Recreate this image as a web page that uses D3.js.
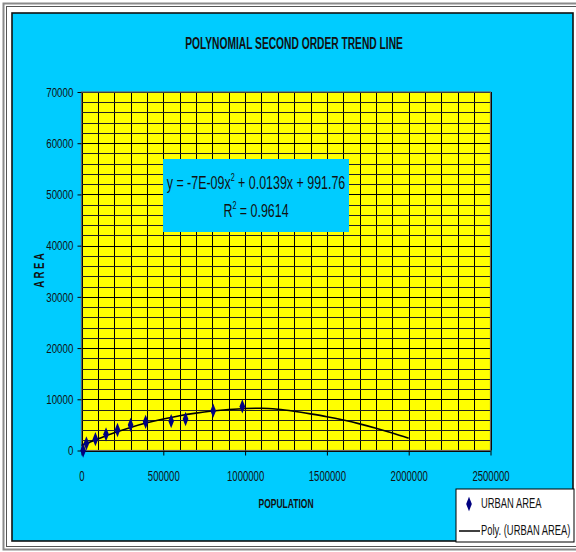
<html>
<head>
  <script src="https://d3js.org/d3.v7.min.js"></script>
  <style>
    body { margin: 0; background: white; }
    text { font-family: "Liberation Sans", Arial, sans-serif; fill: #111; }
  </style>
</head>
<body>
  <svg id="chart" width="576" height="552"></svg>
  <script>
    // urban area points
    const population = [10000, 30000, 85000, 150000, 220000, 300000, 392000, 548000, 636000, 805000, 983000];
    const urbanArea = [0, 1400, 2200, 3150, 4000, 5000, 5600, 5750, 6150, 7780, 8600];

    // poly trend line
    const trendPop = [0, 100000, 200000, 300000, 400000, 500000, 600000, 700000, 800000, 900000, 1000000,
      1100000, 1200000, 1300000, 1400000, 1500000, 1600000, 1700000, 1800000, 1900000, 2000000];
    const trendArea = [1000, 2250, 3450, 4500, 5400, 6150, 6800, 7300, 7700, 8000, 8200,
      8250, 8050, 7650, 7150, 6600, 5950, 5200, 4350, 3400, 2380];

    const xTicks = [0, 500000, 1000000, 1500000, 2000000, 2500000];
    const yTicks = [0, 10000, 20000, 30000, 40000, 50000, 60000, 70000];

    const svg = d3.select("svg#chart");

    // the original text is tall and narrow, so squeeze Liberation Sans around its anchor
    function narrow(t, k) {
      const tx = +t.attr("x"), ty = +t.attr("y");
      t.attr("x", 0).attr("y", 0).attr("transform", `translate(${tx},${ty}) scale(${k},1)`);
      return t;
    }

    // outer frame
    svg.append("rect").attr("x", 3.5).attr("y", 3.5).attr("width", 620).attr("height", 546)
      .style("fill", "white").style("stroke", "#8a8a8a").style("stroke-width", 2);
    svg.append("rect").attr("x", 6.5).attr("y", 6.5).attr("width", 620).attr("height", 540)
      .style("fill", "none").style("stroke", "#555").style("stroke-width", 1);
    svg.append("rect").attr("x", 12).attr("y", 13).attr("width", 561).attr("height", 528)
      .style("fill", "#00CCFF").style("stroke", "#111").style("stroke-width", 1.6);

    const x = d3.scaleLinear().domain([0, 2500000]).range([81.5, 490.5]);
    const y = d3.scaleLinear().domain([0, 70000]).range([450.5, 92]);

    // plot area
    svg.append("rect").attr("x", x(0)).attr("y", y(70000))
      .attr("width", x(2500000) - x(0)).attr("height", y(0) - y(70000))
      .style("fill", "#FFFF00");

    const grid = svg.append("g");
    for (let v = 0; v <= 2500000; v += 100000) {
      grid.append("line")
        .attr("x1", Math.round(x(v)) + 0.5).attr("x2", Math.round(x(v)) + 0.5)
        .attr("y1", y(70000)).attr("y2", y(0))
        .style("stroke", "black").style("stroke-width", 1);
    }
    for (let v = 0; v <= 70000; v += 2000) {
      grid.append("line")
        .attr("x1", x(0)).attr("x2", x(2500000))
        .attr("y1", Math.round(y(v)) + 0.5).attr("y2", Math.round(y(v)) + 0.5)
        .style("stroke", v % 10000 === 0 ? "black" : "#222").style("stroke-width", 1);
    }
    svg.append("rect").attr("x", x(0)).attr("y", y(70000))
      .attr("width", x(2500000) - x(0)).attr("height", y(0) - y(70000))
      .style("fill", "none").style("stroke", "#666").style("stroke-width", 1.2);

    // axes
    const yAxis = svg.append("g").attr("transform", `translate(${x(0)},0)`)
      .call(d3.axisLeft(y).tickValues(yTicks).tickSize(4).tickFormat(d3.format("d")));
    const xAxis = svg.append("g").attr("transform", `translate(0,${y(0)})`)
      .call(d3.axisBottom(x).tickValues(xTicks).tickSize(5).tickFormat(d3.format("d")));
    [xAxis, yAxis].forEach(a => {
      a.select(".domain").remove();
      a.selectAll("line").style("stroke", "black");
      a.selectAll("text").style("fill", "#111")
        .style("font-family", "'Liberation Sans', Arial, sans-serif");
    });
    yAxis.selectAll("text").style("font-size", "13.5px")
      .attr("x", -11.4).attr("transform", "scale(0.72,1)");
    xAxis.selectAll("text").style("font-size", "14.5px")
      .attr("y", 30.5).attr("dy", 0).attr("transform", "scale(0.66,1)");

    // trend line
    svg.append("path")
      .datum(trendPop.map((p, i) => [p, trendArea[i]]))
      .attr("d", d3.line().x(d => x(d[0])).y(d => y(d[1])).curve(d3.curveMonotoneX))
      .style("fill", "none").style("stroke", "black").style("stroke-width", 1.6);

    // points
    const diamond = d3.symbol().type(d3.symbolDiamond).size(28);
    population.forEach((p, i) => {
      svg.append("path").attr("d", diamond())
        .attr("transform", `translate(${x(p)},${y(urbanArea[i])}) scale(1,1.45)`)
        .style("fill", "#000080");
    });

    // title and axis labels
    narrow(svg.append("text").attr("x", 294).attr("y", 49).attr("text-anchor", "middle")
      .style("font-size", "16px").style("font-weight", "bold").text("POLYNOMIAL SECOND ORDER TREND LINE"), 0.64);
    svg.append("text").attr("transform", "translate(43.5,270.5) rotate(-90) scale(0.66,1)")
      .attr("text-anchor", "middle")
      .style("font-size", "14.5px").style("font-weight", "bold").text("A R E A");
    narrow(svg.append("text").attr("x", 286).attr("y", 508).attr("text-anchor", "middle")
      .style("font-size", "13.5px").style("font-weight", "bold").text("POPULATION"), 0.63);

    // equation box
    svg.append("rect").attr("x", 163).attr("y", 159).attr("width", 186).attr("height", 73)
      .style("fill", "#00CCFF");
    const eq1 = narrow(svg.append("text").attr("x", 256).attr("y", 188.5).attr("text-anchor", "middle")
      .style("font-size", "19px"), 0.655);
    eq1.append("tspan").text("y = -7E-09x");
    eq1.append("tspan").attr("dy", -8).style("font-size", "11px").text("2");
    eq1.append("tspan").attr("dy", 8).text(" + 0.0139x + 991.76");
    const eq2 = narrow(svg.append("text").attr("x", 256).attr("y", 217).attr("text-anchor", "middle")
      .style("font-size", "19px"), 0.655);
    eq2.append("tspan").text("R");
    eq2.append("tspan").attr("dy", -8).style("font-size", "11px").text("2");
    eq2.append("tspan").attr("dy", 8).text(" = 0.9614");

    // legend
    svg.append("rect").attr("x", 456).attr("y", 489).attr("width", 118).attr("height", 53)
      .style("fill", "white").style("stroke", "black").style("stroke-width", 1);
    svg.append("path").attr("d", diamond())
      .attr("transform", "translate(469,504) scale(1,1.45)").style("fill", "#000080");
    narrow(svg.append("text").attr("x", 481).attr("y", 508).style("font-size", "14px").text("URBAN AREA"), 0.67);
    svg.append("line").attr("x1", 459).attr("x2", 480).attr("y1", 531).attr("y2", 531)
      .style("stroke", "black").style("stroke-width", 1.5);
    narrow(svg.append("text").attr("x", 481).attr("y", 535).style("font-size", "14px").text("Poly. (URBAN AREA)"), 0.67);
  </script>
</body>
</html>
